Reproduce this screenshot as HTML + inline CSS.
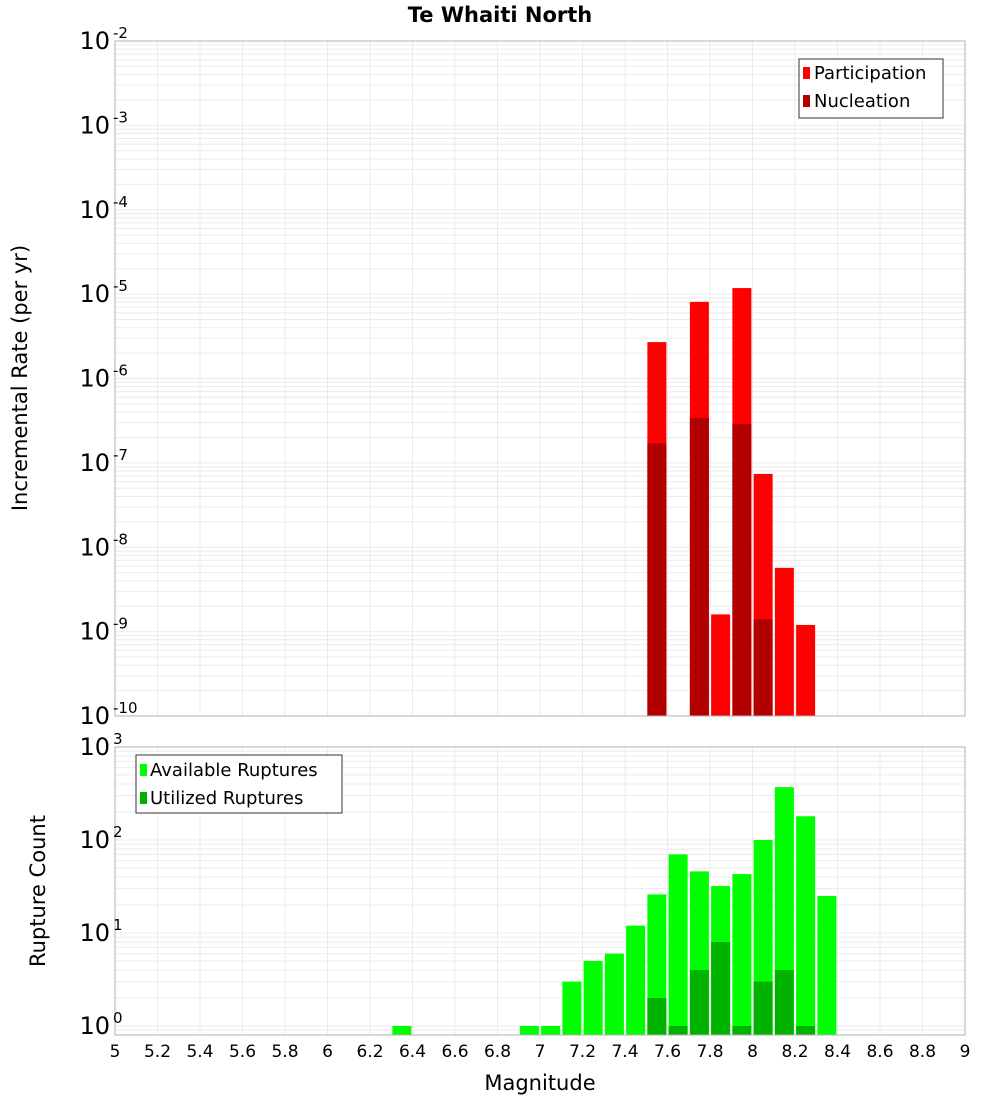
<!DOCTYPE html>
<html><head><meta charset="utf-8"><style>
body{margin:0;background:#fff;font-family:"Liberation Sans","DejaVu Sans",sans-serif}
svg text{font-family:"DejaVu Sans","Liberation Sans",sans-serif}
</style></head><body>
<svg id="c" width="1000" height="1100" xmlns="http://www.w3.org/2000/svg"></svg>
<script>
const mags=[6.35,6.95,7.05,7.15,7.25,7.35,7.45,7.55,7.65,7.75,7.85,7.95,8.05,8.15,8.25,8.35];
const topMags=[7.55,7.75,7.85,7.95,8.05,8.15,8.25];
const participation=[2.7e-6,8.1e-6,1.6e-9,1.18e-5,7.4e-8,5.7e-9,1.2e-9];
const nucleation=[1.7e-7,3.4e-7,0,2.9e-7,1.4e-9,0,0];
const available=[1,1,1,3,5,6,12,26,70,46,32,43,100,370,180,25];
const utilizedMags=[7.55,7.65,7.75,7.85,7.95,8.05,8.15,8.25];
const utilized=[2,1,4,8,1,3,4,1];
const xTicks=[5,5.2,5.4,5.6,5.8,6,6.2,6.4,6.6,6.8,7,7.2,7.4,7.6,7.8,8,8.2,8.4,8.6,8.8,9];
const topExp=[-2,-3,-4,-5,-6,-7,-8,-9,-10];
const botExp=[3,2,1,0];

const NS="http://www.w3.org/2000/svg",svg=document.getElementById('c');
function el(t,a,p){const e=document.createElementNS(NS,t);for(const k in a)e.setAttribute(k,a[k]);(p||svg).appendChild(e);return e;}
const X0=115,X1=965;
const x=m=>X0+(m-5)/4*(X1-X0);
const T0=41,T1=716,yT=v=>T0+(-2-Math.log10(v))/8*(T1-T0);
const B0=747,B1=1035,bMin=0.8,yB=v=>B0+(3-Math.log10(v))/(3-Math.log10(bMin))*(B1-B0);

function grid(top,bot,yf,lo,hi){
  const g=el('g',{});
  
  
  for(const t of xTicks){el('line',{x1:x(t),x2:x(t),y1:top,y2:bot,stroke:'#ebebeb'},g);}
  for(let e=lo;e<hi;e++)for(let k=1;k<10;k++){const y=yf(k*Math.pow(10,e));if(y>=top&&y<=bot)el('line',{x1:X0,x2:X1,y1:y,y2:y,stroke:'#ebebeb'},g);}
}
grid(T0,T1,yT,-10,-2);grid(B0,B1,yB,-1,3);

const bw=19;
topMags.forEach((m,i)=>{
  const r=el('rect',{x:x(m)-bw/2,y:yT(participation[i]),width:bw,height:T1-yT(participation[i]),fill:'#ff0000'});
  
  
  if(nucleation[i]>0){const n=el('rect',{x:x(m)-bw/2,y:yT(nucleation[i]),width:bw,height:T1-yT(nucleation[i]),fill:'#b20000'});
  
  }
});
mags.forEach((m,i)=>{
  const r=el('rect',{x:x(m)-bw/2,y:yB(available[i]),width:bw,height:B1-yB(available[i]),fill:'#00ff00'});
  
  
});
utilizedMags.forEach((m,i)=>{
  const r=el('rect',{x:x(m)-bw/2,y:yB(utilized[i]),width:bw,height:B1-yB(utilized[i]),fill:'#00b200'});
  
  
});
el('rect',{x:X0,y:T0,width:X1-X0,height:T1-T0,fill:'none',stroke:'#b0b0b0'});
el('rect',{x:X0,y:B0,width:X1-X0,height:B1-B0,fill:'none',stroke:'#b0b0b0'});

function sup(y,e,sz){
  const t=el('text',{x:110,y:y+8,'text-anchor':'end','font-size':sz,fill:'#000'});
  
  
  t.textContent='10';
  const s=el('text',{x:113,y:y-3,'font-size':15,fill:'#000'});
  
  
  s.textContent=String(e);
}
topExp.forEach(e=>sup(yT(Math.pow(10,e)),e,24));
botExp.forEach(e=>sup(yB(Math.pow(10,e)),e,24));
xTicks.forEach(t=>{
  const l=el('text',{x:x(t),y:1057,'text-anchor':'middle','font-size':17,fill:'#000'});
  
  
  l.textContent=String(t);
});
</script>
<svg width="1000" height="1100" style="position:absolute;left:0;top:0" xmlns="http://www.w3.org/2000/svg">
<text x="500" y="22" text-anchor="middle" font-size="21" font-weight="bold" style="font-family:'DejaVu Sans',sans-serif">Te Whaiti North</text>
<text x="540" y="1090" text-anchor="middle" font-size="21" style="font-family:'DejaVu Sans',sans-serif">Magnitude</text>
<text transform="translate(27,378) rotate(-90)" text-anchor="middle" font-size="21" style="font-family:'DejaVu Sans',sans-serif">Incremental Rate (per yr)</text>
<text transform="translate(45,891) rotate(-90)" text-anchor="middle" font-size="21" style="font-family:'DejaVu Sans',sans-serif">Rupture Count</text>
<g style="font-family:'DejaVu Sans',sans-serif">
<rect x="799" y="59" width="144" height="59" fill="#fff" stroke="#333"/>
<rect x="803" y="67" width="7" height="12" fill="#ff0000"/>
<text x="814" y="79" font-size="18">Participation</text>
<rect x="803" y="95" width="7" height="12" fill="#b20000"/>
<text x="814" y="107" font-size="18">Nucleation</text>
</g>
<g style="font-family:'DejaVu Sans',sans-serif">
<rect x="136" y="755" width="206" height="58" fill="#fff" stroke="#333"/>
<rect x="140" y="764" width="7" height="12" fill="#00ff00"/>
<text x="150" y="776" font-size="18">Available Ruptures</text>
<rect x="140" y="792" width="7" height="12" fill="#00b200"/>
<text x="150" y="804" font-size="18">Utilized Ruptures</text>
</g>
</svg>
</body></html>
